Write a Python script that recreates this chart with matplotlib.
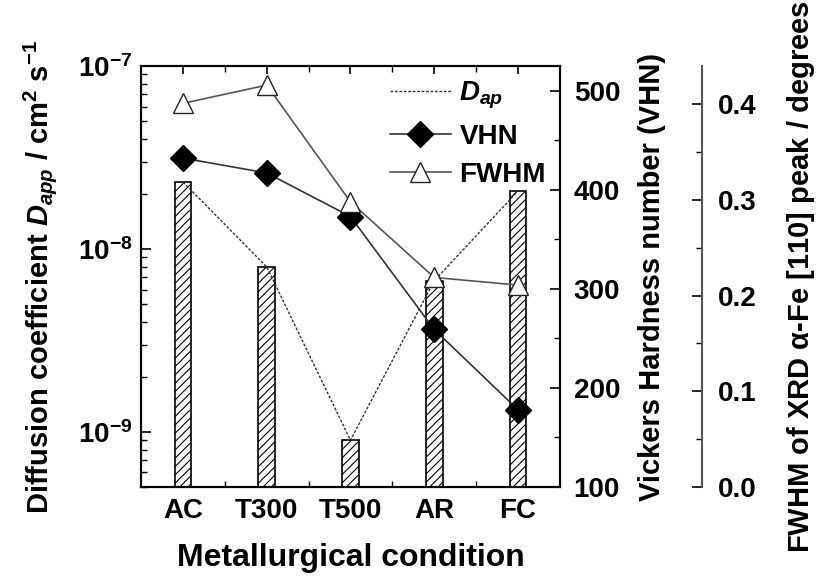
import numpy as np
import matplotlib
matplotlib.use('Agg')
import matplotlib.pyplot as plt
from matplotlib.ticker import MultipleLocator, LogLocator, NullFormatter, FixedLocator

conditions = ['AC', 'T300', 'T500', 'AR', 'FC']
D_app = [2.32e-8, 7.97e-9, 9.0e-10, 6.7e-9, 2.07e-8]
VHN = [432, 417, 373, 259, 178]
FWHM = [0.401, 0.420, 0.298, 0.219, 0.211]

plt.rcParams['font.family'] = ['Liberation Sans', 'DejaVu Sans']
plt.rcParams['font.weight'] = 'bold'
plt.rcParams['mathtext.fontset'] = 'custom'
plt.rcParams['mathtext.rm'] = 'Liberation Sans:bold'
plt.rcParams['mathtext.it'] = 'Liberation Sans:bold:italic'
plt.rcParams['mathtext.bf'] = 'Liberation Sans:bold'
plt.rcParams['hatch.linewidth'] = 0.8
plt.rcParams['axes.linewidth'] = 1.5

fig = plt.figure(figsize=(8.16, 5.79), dpi=100)
fig.subplots_adjust(left=0.173, right=0.686, top=0.886, bottom=0.159)
ax = fig.add_subplot(111)

x = np.arange(1, len(conditions) + 1)

# bars + dashed line for D_app
ax.bar(x, D_app, width=0.2, color='white', edgecolor='black', hatch='////',
       linewidth=1.2, zorder=2)
lD, = ax.plot(x, D_app, ls=(0, (2, 1.2)), color='#333333', lw=1.0, zorder=3)
ax.set_yscale('log')
ax.set_ylim(5e-10, 1e-7)
ax.set_xlim(0.5, 5.5)
ax.set_xticks(x)
ax.set_xticklabels(conditions)
ax.xaxis.set_minor_locator(FixedLocator(x[:-1] + 0.5))
ax.yaxis.set_major_locator(LogLocator(base=10, numticks=10))
ax.yaxis.set_minor_locator(LogLocator(base=10, subs=np.arange(2, 10), numticks=20))
ax.yaxis.set_minor_formatter(NullFormatter())
ax.tick_params(axis='both', which='both', direction='in', top=True, labelsize=20)
ax.tick_params(axis='y', which='major', length=7, width=1.2, pad=6)
ax.tick_params(axis='y', which='minor', length=4, width=1)
ax.tick_params(axis='x', which='major', length=6, width=1.2, pad=8)
ax.tick_params(axis='x', which='minor', length=4, width=1)
ax.set_xlabel('Metallurgical condition', fontsize=23, fontweight='bold', labelpad=14)
ax.set_ylabel(r'Diffusion coefficient $D_{app}$ / cm$^2$ s$^{-1}$',
              fontsize=21, fontweight='bold', labelpad=14)

# VHN axis
ax2 = ax.twinx()
lV, = ax2.plot(x, VHN, marker='D', color='#333333', mfc='black', mec='black',
               ms=13, lw=1.2, zorder=4)
ax2.set_ylim(100, 525)
ax2.yaxis.set_major_locator(MultipleLocator(100))
ax2.yaxis.set_minor_locator(MultipleLocator(50))
ax2.tick_params(axis='y', which='both', direction='in', labelsize=20)
ax2.tick_params(axis='y', which='major', length=7, width=1.2, pad=10)
ax2.tick_params(axis='y', which='minor', length=4, width=1)
ax2.set_ylabel('Vickers Hardness number (VHN)', fontsize=21, fontweight='bold',
               labelpad=13)

# FWHM axis
ax3 = ax.twinx()
ax3.spines['right'].set_position(('axes', 1.339))
for s in ['left', 'top', 'bottom']:
    ax3.spines[s].set_visible(False)
ax3.spines['right'].set_color('#555555')
ax3.spines['right'].set_linewidth(1.5)
lF, = ax3.plot(x, FWHM, marker='^', color='#555555', mfc='white', mec='#222222',
               ms=15, lw=1.2, zorder=5)
ax3.set_ylim(0, 0.44)
ax3.yaxis.set_major_locator(MultipleLocator(0.1))
ax3.yaxis.set_minor_locator(MultipleLocator(0.05))
ax3.yaxis.set_major_formatter(matplotlib.ticker.FormatStrFormatter('%.1f'))
ax3.tick_params(axis='y', which='both', direction='in', labelsize=20)
ax3.tick_params(axis='y', which='major', length=7, width=1.2, pad=12)
ax3.tick_params(axis='y', which='minor', length=4, width=1)
ax3.set_ylabel(r'FWHM of XRD $\mathregular{\alpha}$-Fe [110] peak / degrees',
               fontsize=21, fontweight='bold', labelpad=20)

leg = ax.legend([lD, lV, lF], [r'$D_{ap}$', 'VHN', 'FWHM'], loc='upper right',
                frameon=False, fontsize=20, handlelength=2.2, handletextpad=0.3,
                borderaxespad=0.1, labelspacing=0.45)
leg.set_zorder(10)

fig.savefig('out.png', dpi=100)
